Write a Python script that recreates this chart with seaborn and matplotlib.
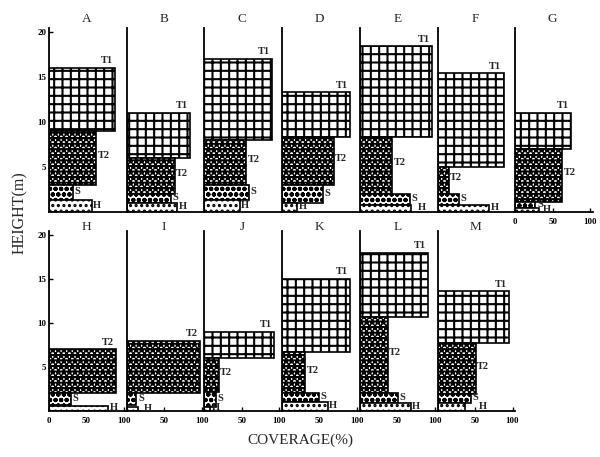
import numpy as np
import pandas as pd
import matplotlib
matplotlib.use("Agg")
import matplotlib.pyplot as plt
import seaborn as sns

# ---------------- data ----------------
panels = ["A", "B", "C", "D", "E", "F", "G", "H", "I", "J", "K", "L", "M"]
nan = np.nan
# T1 (upper tree layer): low height, high height (m), coverage (%)
t1_low  = [9.0, 6.0, 8.0, 8.3, 8.3, 5.0, 7.0, nan, nan, 6.0, 6.7, 10.7, 7.7]
t1_high = [16.0, 11.0, 17.0, 13.3, 18.4, 15.4, 11.0, nan, nan, 9.0, 15.0, 18.0, 13.6]
t1_cov  = [88, 85, 90, 91, 96, 88, 75, nan, nan, 93, 91, 91, 95]
# T2 (lower tree layer)
t2_low  = [3.0, 2.0, 3.0, 3.0, 2.0, 2.0, 1.1, 2.0, 2.0, 2.2, 2.0, 2.0, 1.9]
t2_high = [9.0, 6.0, 8.0, 8.3, 8.3, 5.0, 7.0, 7.0, 8.0, 6.0, 6.7, 10.7, 7.7]
t2_cov  = [63, 64, 56, 69, 43, 15, 63, 89, 98, 19, 31, 37, 51]
# S (shrub layer)
s_low   = [1.3, 1.0, 1.3, 1.0, 0.8, 0.8, 0.45, 0.7, 0.7, 0.5, 1.0, 0.9, 0.9]
s_high  = [3.0, 2.0, 3.0, 3.0, 2.0, 2.0, 1.1, 2.0, 2.0, 2.2, 2.0, 2.0, 1.9]
s_cov   = [32, 59, 59, 55, 67, 29, 27, 29, 13, 15, 49, 51, 45]
# H (herb layer)
h_low   = [0.0] * 13
h_high  = [1.3, 1.0, 1.3, 1.0, 0.8, 0.8, 0.45, 0.6, 0.4, 0.5, 1.0, 0.9, 0.9]
h_cov   = [57, 67, 47, 20, 68, 69, 32, 79, 15, 8, 61, 68, 36]

rows = []
for i, p in enumerate(panels):
    for name, lo, hi, cv in [("T1", t1_low, t1_high, t1_cov),
                             ("T2", t2_low, t2_high, t2_cov),
                             ("S", s_low, s_high, s_cov),
                             ("H", h_low, h_high, h_cov)]:
        if not np.isnan(cv[i]):
            rows.append(dict(panel=p, layer=name, low=lo[i], high=hi[i], cov=cv[i]))
df = pd.DataFrame(rows)

# ---------------- style ----------------
sns.set_theme(style="ticks")
plt.rcParams["font.family"] = ["Liberation Serif", "DejaVu Serif"]
plt.rcParams["hatch.linewidth"] = 1.5

hatches = {"T1": "++", "T2": "***", "S": "ooo", "H": "..."}
faces = {"T1": "white", "T2": "white", "S": "white", "H": "white"}

W, H = 600, 457
fig = plt.figure(figsize=(W / 100, H / 100), dpi=100)

pw = 77.7                     # panel width in px
x_max = 100 * pw / 75.0       # 100 % spans 75 px
rows_geom = [  # (y px of 0 m, px per m, title y px)
    (212.0, 9.0, 19.0),
    (411.0, 8.8, 227.0),
]
y_top = 20.5

for idx, p in enumerate(panels):
    r = 0 if idx < 7 else 1
    c = idx if idx < 7 else idx - 7
    y0, ppm, ty = rows_geom[r]
    left = 49 + c * pw
    top_px = y0 - y_top * ppm
    ax = fig.add_axes([left / W, 1 - y0 / H, pw / W, (y0 - top_px) / H])
    ax.set_facecolor("none")
    sub = df[df.panel == p]
    top_layer = sub.sort_values("high").iloc[-1]["layer"]
    s_row = sub[sub.layer == "S"].iloc[0]
    for _, row in sub.iterrows():
        ax.barh(row["low"], row["cov"], height=row["high"] - row["low"],
                align="edge", facecolor=faces[row["layer"]],
                edgecolor="black", hatch=hatches[row["layer"]], linewidth=1.2)
        kw = dict(fontsize=7.5, fontweight="bold")
        if row["layer"] == top_layer:
            ax.text(row["cov"] - 3, row["high"] + 0.3, row["layer"],
                    ha="right", va="bottom", **kw)
        elif row["layer"] == "T2":
            ax.text(row["cov"] + 2, (row["low"] + row["high"]) / 2 + 0.3,
                    row["layer"], ha="left", va="center", **kw)
        elif row["layer"] == "S":
            ax.text(row["cov"] + 2, (row["low"] + row["high"]) / 2 + 0.1,
                    row["layer"], ha="left", va="center", **kw)
        else:
            hx = row["cov"]
            if s_row["high"] - s_row["low"] < 1.6:
                hx = max(hx, s_row["cov"] + 8)
            ax.text(hx + 2, (row["low"] + row["high"]) / 2 + 0.1,
                    row["layer"], ha="left", va="center", **kw)
    ax.set_xlim(0, x_max)
    ax.set_ylim(0, y_top)
    sns.despine(ax=ax, top=True, right=True)
    for s in ["left", "bottom"]:
        ax.spines[s].set_linewidth(1.3)
        ax.spines[s].set_color("black")
    ax.tick_params(direction="in", length=3, width=1, labelsize=6.5,
                   pad=2, colors="black")
    if c == 0:
        ax.set_yticks([5, 10, 15, 20])
        ax.set_yticklabels(["5", "10", "15", "20"], fontweight="bold")
    else:
        ax.set_yticks([])
    if r == 1 or p == "G":
        if c == 0 or p == "G":
            ax.set_xticks([0, 50, 100])
            ax.set_xticklabels(["0", "50", "100"], fontweight="bold")
        else:
            ax.set_xticks([50, 100])
            ax.set_xticklabels(["50", "100"], fontweight="bold")
        ax.tick_params(axis="x", pad=4)
    else:
        ax.set_xticks([])
    fig.text((left + 75 / 2) / W, 1 - ty / H, p, ha="center", va="center",
             fontsize=9.5)

fig.text(20 / W, 1 - 213 / H, "HEIGHT(m)", rotation=90, ha="center",
         va="center", fontsize=11.5)
fig.text(300 / W, 1 - 440 / H, "COVERAGE(%)", ha="center", va="center",
         fontsize=11)

fig.savefig("out.png", dpi=100)
